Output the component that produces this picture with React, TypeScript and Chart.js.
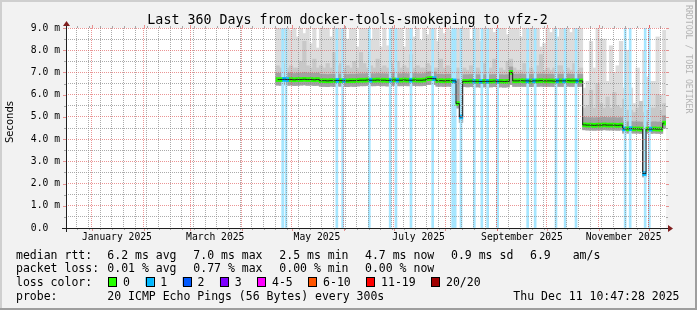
import React, { useEffect, useRef } from "react";
import { Chart, registerables } from "chart.js";

Chart.register(...registerables);

// ---------------- data ----------------
// x values are days counted from the graph start (Mon Dec 16 2024 10:47:28), 360 days shown
const xMinDay = 0;
const xMaxDay = 360;
const firstBucketDay = 127; // centre of the first 2-day bucket that has data
const bucketDays = 2;

// median RTT per bucket (ms)
const median = [
  6.68, 6.68, 6.69, 6.68, 6.68, 6.67, 6.68, 6.68, 6.69, 6.68,
  6.68, 6.67, 6.68, 6.63, 6.63, 6.62, 6.63, 6.63, 6.64, 6.63,
  6.63, 6.62, 6.63, 6.63, 6.64, 6.65, 6.65, 6.66, 6.65, 6.65,
  6.66, 6.65, 6.65, 6.64, 6.65, 6.66, 6.65, 6.65, 6.66, 6.65,
  6.65, 6.66, 6.65, 6.65, 6.66, 6.72, 6.73, 6.72, 6.63, 6.63,
  6.62, 6.63, 6.63, 6.62, 5.6, 5.0, 6.6, 6.6, 6.61, 6.6,
  6.6, 6.59, 6.6, 6.6, 6.6, 6.61, 6.6, 6.6, 6.59, 6.6,
  7.0, 6.62, 6.62, 6.63, 6.62, 6.62, 6.61, 6.62, 6.62, 6.63,
  6.62, 6.62, 6.62, 6.61, 6.62, 6.62, 6.62, 6.63, 6.62, 6.62,
  6.62, 6.62, 4.64, 4.63, 4.63, 4.62, 4.63, 4.63, 4.64, 4.63,
  4.63, 4.63, 4.62, 4.63, 4.46, 4.46, 4.47, 4.46, 4.46, 4.45,
  2.45, 4.45, 4.45, 4.46, 4.45, 4.45, 4.72,
];

// lowest ping per bucket (ms)
const smokeLow = [
  6.43, 6.42, 6.44, 6.42, 6.43, 6.41, 6.42, 6.43, 6.44, 6.42,
  6.43, 6.41, 6.42, 6.38, 6.37, 6.36, 6.38, 6.37, 6.39, 6.38,
  6.37, 6.36, 6.38, 6.37, 6.39, 6.4, 6.4, 6.41, 6.4, 6.4,
  6.41, 6.4, 6.4, 6.39, 6.4, 6.41, 6.4, 6.4, 6.41, 6.4,
  6.4, 6.41, 6.4, 6.4, 6.41, 6.45, 6.46, 6.45, 6.38, 6.38,
  6.37, 6.38, 6.38, 6.37, 5.4, 4.75, 6.36, 6.35, 6.36, 6.35,
  6.35, 6.34, 6.35, 6.35, 6.35, 6.36, 6.35, 6.35, 6.34, 6.35,
  6.45, 6.37, 6.37, 6.38, 6.37, 6.37, 6.36, 6.37, 6.37, 6.38,
  6.37, 6.37, 6.37, 6.36, 6.37, 6.37, 6.37, 6.38, 6.37, 6.37,
  6.37, 6.37, 4.42, 4.41, 4.41, 4.4, 4.41, 4.41, 4.42, 4.41,
  4.41, 4.41, 4.4, 4.41, 4.27, 4.27, 4.28, 4.27, 4.27, 4.26,
  2.3, 4.26, 4.26, 4.27, 4.26, 4.26, 4.5,
];

// top of the dense (dark) smoke per bucket (ms)
const smokeInner = [
  6.97, 6.96, 6.98, 6.97, 6.97, 6.95, 6.97, 6.97, 6.99, 6.97,
  6.97, 6.96, 6.97, 6.92, 6.92, 6.91, 6.92, 6.92, 6.93, 6.92,
  6.92, 6.91, 6.92, 6.92, 6.93, 6.94, 6.94, 6.95, 6.94, 6.94,
  6.95, 6.94, 6.94, 6.93, 6.94, 6.95, 6.94, 6.94, 6.95, 6.94,
  6.94, 6.95, 6.94, 6.94, 6.95, 7.02, 7.03, 7.02, 6.92, 6.92,
  6.91, 6.92, 6.92, 6.91, 6.7, 6.7, 6.9, 6.9, 6.91, 6.9,
  6.9, 6.89, 6.9, 6.9, 6.9, 6.91, 6.9, 6.9, 6.89, 6.9,
  7.25, 6.92, 6.92, 6.93, 6.92, 6.92, 6.91, 6.92, 6.92, 6.93,
  6.92, 6.92, 6.92, 6.91, 6.92, 6.92, 6.92, 6.93, 6.92, 6.92,
  6.92, 6.92, 4.98, 4.97, 4.97, 4.96, 4.97, 4.97, 4.98, 4.97,
  4.97, 4.97, 4.96, 4.97, 4.78, 4.78, 4.79, 4.78, 4.78, 4.77,
  4.6, 4.77, 4.77, 4.78, 4.77, 4.77, 5.05,
];

// top of the medium smoke per bucket (ms)
const smokeMid = [
  7.3, 7.2, 7.4, 7.2, 7.3, 7.2, 7.2, 7.5, 8.4, 7.3,
  7.2, 7.6, 7.2, 7.3, 7.2, 7.4, 7.2, 7.9, 7.3, 7.4,
  7.2, 7.3, 7.2, 7.5, 7.2, 7.9, 7.4, 7.2, 7.3, 7.2,
  7.6, 7.2, 7.3, 7.2, 7.4, 7.2, 7.5, 7.2, 7.3, 7.2,
  7.8, 7.2, 7.3, 7.2, 7.2, 7.4, 7.3, 7.2, 7.2, 7.6,
  7.2, 7.3, 7.2, 7.2, 7.2, 7.0, 7.2, 7.1, 7.3, 7.1,
  7.2, 7.1, 7.4, 7.1, 7.2, 7.6, 7.1, 7.2, 7.1, 7.5,
  7.6, 7.2, 7.1, 7.1, 7.4, 7.1, 7.2, 7.1, 7.3, 7.8,
  7.1, 7.2, 7.1, 7.2, 7.3, 7.3, 7.1, 7.2, 7.1, 7.4,
  7.1, 7.2, 5.4, 5.5, 6.2, 5.4, 6.5, 5.6, 5.4, 5.9,
  5.4, 6.1, 5.5, 5.4, 5.8, 5.3, 5.3, 5.2, 5.4, 5.7,
  5.2, 5.3, 5.4, 5.4, 6.0, 5.3, 5.6,
];

// highest ping per bucket (ms), values above 9 are clipped by the graph
const smokeTop = [
  9.5, 9.5, 9.5, 9.5, 8.9, 9.5, 8.6, 9.5, 8.75, 9.5,
  8.3, 9.5, 8.1, 9.5, 9.5, 9.5, 8.6, 9.5, 9.5, 9.5,
  9.5, 8.5, 9.5, 9.5, 8.15, 9.5, 9.5, 9.5, 8.5, 9.5,
  9.5, 8.15, 9.5, 8.2, 9.5, 9.5, 9.5, 9.5, 8.15, 9.5,
  9.5, 8.6, 9.5, 8.45, 9.5, 8.7, 9.5, 9.5, 8.4, 9.5,
  8.75, 9.5, 8.85, 9.5, 9.5, 9.5, 9.5, 9.5, 8.5, 9.5,
  9.5, 8.4, 9.5, 8.75, 9.5, 8.8, 9.5, 9.5, 9.5, 8.7,
  9.5, 9.5, 9.5, 8.6, 9.5, 9.5, 9.5, 9.5, 9.5, 8.15,
  8.3, 9.5, 8.8, 9.5, 8.6, 9.5, 9.5, 9.5, 8.8, 9.5,
  9.5, 9.5, 6.3, 6.6, 8.4, 7.2, 9.2, 8.5, 8.5, 6.6,
  8.2, 7.0, 7.3, 8.4, 6.3, 8.0, 6.3, 5.6, 7.2, 5.5,
  8.0, 6.8, 6.6, 6.6, 8.6, 6.0, 8.9,
];

// days on which packet loss happened (1 of 20 pings lost)
const lossDays = [
  130, 132, 162.5, 166, 182, 194.5, 198, 207, 220, 232, 233.5, 237,
  245, 249.5, 253, 259, 277, 281.5, 294, 299.5, 306, 335.5, 338.5, 347.5, 350,
];

// time axis
const monthStartDays = [15.55, 46.55, 74.55, 105.55, 135.55, 166.55, 196.55, 227.55, 258.55, 288.55, 319.55, 349.55];
const monthLabelDays = [30.55, 89.55, 150.55, 211.55, 273.55, 334.55];
const monthLabels = ["January 2025", "March 2025", "May 2025", "July 2025", "September 2025", "November 2025"];
const firstMondayDay = 6.55;

// value axis
const yMin = 0;
const yMax = 9;
const yStep = 0.5;

// texts
const titleText = "Last 360 Days from docker-tools-smokeping to vfz-2";
const yTitle = "Seconds";
const rttLabel = "median rtt:";
const rttStats = ["6.2 ms avg", "7.0 ms max", "2.5 ms min", "4.7 ms now", "0.9 ms sd"];
const amsValue = "6.9";
const amsUnit = "am/s";
const lossLabel = "packet loss:";
const lossStats = ["0.01 % avg", "0.77 % max", "0.00 % min", "0.00 % now"];
const lossColorLabel = "loss color:";
const lossColorNames = ["0", "1", "2", "3", "4-5", "6-10", "11-19", "20/20"];
const lossColorValues = ["#26ff00", "#00b8ff", "#0059ff", "#7e00ff", "#ff00ff", "#ff5500", "#ff0000", "#a00000"];
const probeLabel = "probe:";
const probeText = "20 ICMP Echo Pings (56 Bytes) every 300s";
const stampText = "Thu Dec 11 10:47:28 2025";
const creditText = "RRDTOOL / TOBI OETIKER";

// ---------------- derived ----------------
const bucketX = median.map((_, i) => firstBucketDay + i * bucketDays);
const weekDays: number[] = [];
for (let d = firstMondayDay; d < xMaxDay; d += 7) weekDays.push(d);
const isMonthStart = (v: number) => monthStartDays.some((m) => Math.abs(m - v) < 1e-6);
const labelIndex = (v: number) => monthLabelDays.findIndex((m) => Math.abs(m - v) < 1e-6);
const xTickValues = [...weekDays, ...monthStartDays, ...monthLabelDays].sort((a, b) => a - b);
const bandColors = bucketX.map((c) =>
  lossDays.some((d) => d >= c - bucketDays / 2 && d < c + bucketDays / 2) ? lossColorValues[1] : lossColorValues[0]
);

const W = 697;
const H = 310;
const PLOT_W = 600;
const MONO = '"DejaVu Sans Mono", monospace';
const GRID_MINOR = "rgba(143,143,143,0.75)";
const GRID_MAJOR = "rgba(222,79,79,0.6)";

const backgroundPlugin = {
  id: "rrdBackground",
  beforeDraw(chart: any) {
    const { ctx, chartArea: a } = chart;
    ctx.save();
    ctx.fillStyle = "#f2f2f2";
    ctx.fillRect(0, 0, W, H);
    ctx.fillStyle = "#cfcfcf";
    ctx.fillRect(0, 0, W, 2);
    ctx.fillRect(0, 0, 2, H);
    ctx.fillStyle = "#9e9e9e";
    ctx.fillRect(0, H - 2, W, 2);
    ctx.fillRect(W - 2, 0, 2, H);
    ctx.fillStyle = "#ffffff";
    ctx.fillRect(a.left, a.top, a.right - a.left, a.bottom - a.top);
    ctx.restore();
  },
};

const decoPlugin = {
  id: "rrdDeco",
  afterDraw(chart: any) {
    const { ctx, chartArea: a } = chart;
    const xs = chart.scales.x;
    const ys = chart.scales.y;
    ctx.save();
    ctx.lineWidth = 1;
    const vline = (x: number, y1: number, y2: number, c: string) => {
      ctx.strokeStyle = c;
      ctx.beginPath();
      ctx.moveTo(x, y1);
      ctx.lineTo(x, y2);
      ctx.stroke();
    };
    const hline = (y: number, x1: number, x2: number, c: string) => {
      ctx.strokeStyle = c;
      ctx.beginPath();
      ctx.moveTo(x1, y);
      ctx.lineTo(x2, y);
      ctx.stroke();
    };
    // tick marks on all four sides
    [...weekDays, ...monthStartDays].forEach((d) => {
      const major = isMonthStart(d);
      const x = Math.round(xs.getPixelForValue(d)) + 0.5;
      const len = major ? 3 : 2;
      const c = major ? GRID_MAJOR : GRID_MINOR;
      vline(x, a.top - len, a.top, c);
      vline(x, a.bottom, a.bottom + len, c);
    });
    for (let v = yMin; v <= yMax + 1e-9; v += yStep) {
      const major = Math.abs(v - Math.round(v)) < 1e-6;
      const y = Math.round(ys.getPixelForValue(v)) + 0.5;
      const len = major ? 3 : 2;
      const c = major ? GRID_MAJOR : GRID_MINOR;
      hline(y, a.left - len, a.left, c);
      hline(y, a.right, a.right + len, c);
    }
    // axes with arrows
    const ox = Math.round(a.left) + 0.5;
    const oy = Math.round(a.bottom) + 0.5;
    hline(oy, a.left - 4, a.right + 4, "#1f1f1f");
    vline(ox, a.bottom + 4, a.top - 4, "#1f1f1f");
    ctx.fillStyle = "#801f1f";
    ctx.beginPath();
    ctx.moveTo(a.right + 2, oy - 3.5);
    ctx.lineTo(a.right + 2, oy + 3.5);
    ctx.lineTo(a.right + 7, oy);
    ctx.closePath();
    ctx.fill();
    ctx.beginPath();
    ctx.moveTo(ox - 3.5, a.top - 2);
    ctx.lineTo(ox + 3.5, a.top - 2);
    ctx.lineTo(ox, a.top - 7);
    ctx.closePath();
    ctx.fill();

    // title
    ctx.fillStyle = "#000";
    ctx.textBaseline = "alphabetic";
    ctx.textAlign = "center";
    ctx.font = `13.3px ${MONO}`;
    ctx.fillText(titleText, 347.5, 24);

    // vertical axis title
    ctx.save();
    ctx.translate(10.5, 122);
    ctx.rotate(-Math.PI / 2);
    ctx.font = '10px "DejaVu Sans", sans-serif';
    ctx.textAlign = "center";
    ctx.textBaseline = "middle";
    ctx.fillText(yTitle, 0, 0);
    ctx.restore();

    // credit
    ctx.save();
    ctx.translate(688.5, 5);
    ctx.rotate(Math.PI / 2);
    ctx.font = `8.2px ${MONO}`;
    ctx.textAlign = "left";
    ctx.textBaseline = "middle";
    ctx.fillStyle = "#b4b4b4";
    ctx.fillText(creditText, 0, 0);
    ctx.restore();

    // legend
    ctx.font = `11.5px ${MONO}`;
    ctx.textAlign = "left";
    ctx.textBaseline = "alphabetic";
    ctx.fillStyle = "#000";
    const rows = [258.5, 272, 286, 300];
    const cols = [107.3, 193.3, 279.3, 365, 451];
    ctx.fillText(rttLabel, 16, rows[0]);
    rttStats.forEach((t, i) => ctx.fillText(t, cols[i], rows[0]));
    ctx.fillText(amsValue, 530, rows[0]);
    ctx.fillText(amsUnit, 572.7, rows[0]);
    ctx.fillText(lossLabel, 16, rows[1]);
    lossStats.forEach((t, i) => ctx.fillText(t, cols[i], rows[1]));
    ctx.fillText(lossColorLabel, 16, rows[2]);
    let bx = 108.3;
    lossColorNames.forEach((name, i) => {
      ctx.fillStyle = lossColorValues[i];
      ctx.fillRect(bx, rows[2] - 9, 8.3, 9);
      ctx.strokeStyle = "#000";
      ctx.strokeRect(Math.round(bx) + 0.5, rows[2] - 9 + 0.5, 8, 9);
      ctx.fillStyle = "#000";
      const lx = bx + 14.8;
      ctx.fillText(name, lx, rows[2]);
      bx = lx + ctx.measureText(name).width + 15.5;
    });
    ctx.fillText(probeLabel, 16, rows[3]);
    ctx.fillText(probeText, 107.3, rows[3]);
    ctx.textAlign = "right";
    ctx.fillText(stampText, 679.5, rows[3]);
    ctx.restore();
  },
};

function buildConfig(): any {
  const floatBars = (lo: number[], hi: number[]) => bucketX.map((x, i) => ({ x, y: [lo[i], hi[i]] }));
  const bucketPx = (bucketDays * PLOT_W) / (xMaxDay - xMinDay);
  const barCommon = {
    type: "bar",
    grouped: false,
    barThickness: bucketPx + 0.2,
    borderWidth: 0,
    xAxisID: "xs",
  };
  const hiddenX = { type: "linear", min: xMinDay, max: xMaxDay, offset: false, display: false, grid: { offset: false } };
  return {
    type: "bar",
    data: {
      datasets: [
        { ...barCommon, label: "smoke max", data: floatBars(smokeLow, smokeTop), backgroundColor: "#dcdcdc", order: 10 },
        { ...barCommon, label: "smoke mid", data: floatBars(smokeLow, smokeMid), backgroundColor: "#c8c8c8", order: 9 },
        { ...barCommon, label: "smoke core", data: floatBars(smokeLow, smokeInner), backgroundColor: "#a2a2a2", order: 8 },
        {
          type: "bar",
          label: "loss",
          xAxisID: "x2",
          grouped: false,
          barThickness: 2,
          borderWidth: 0,
          data: lossDays.map((d) => ({ x: d, y: [yMin, yMax] })),
          backgroundColor: "#a6e6ff",
          order: 7,
        },
        {
          ...barCommon,
          label: "median band",
          data: bucketX.map((x, i) => ({ x, y: [median[i] - 0.09, median[i] + 0.09] })),
          backgroundColor: bandColors,
          order: 6,
        },
        {
          type: "line",
          label: "median",
          xAxisID: "x",
          data: bucketX.map((x, i) => ({ x, y: median[i] })),
          borderColor: "#202020",
          borderWidth: 1,
          pointRadius: 0,
          fill: false,
          stepped: "middle",
          order: 5,
        },
      ],
    },
    options: {
      animation: false,
      responsive: false,
      devicePixelRatio: 1,
      events: [],
      layout: { padding: { left: 0, right: 31, top: 28, bottom: 62 } },
      plugins: { legend: { display: false }, tooltip: { enabled: false }, title: { display: false } },
      scales: {
        x: {
          type: "linear",
          min: xMinDay,
          max: xMaxDay,
          offset: false,
          afterFit: (s: any) => {
            s.height = 20;
          },
          afterBuildTicks: (s: any) => {
            s.ticks = xTickValues.map((v) => ({ value: v }));
          },
          grid: {
            z: 1,
            offset: false,
            drawTicks: false,
            color: (c: any) => (isMonthStart(c.tick.value) ? GRID_MAJOR : GRID_MINOR),
            lineWidth: (c: any) => (labelIndex(c.tick.value) >= 0 ? 0 : 1),
          },
          border: { display: false, dash: [1, 1] },
          ticks: {
            autoSkip: false,
            maxRotation: 0,
            minRotation: 0,
            padding: 4,
            color: "#000",
            font: { family: MONO, size: 9.7 },
            callback: (v: number) => {
              const i = labelIndex(v);
              return i >= 0 ? monthLabels[i] : "";
            },
          },
        },
        xs: { ...hiddenX },
        x2: { ...hiddenX },
        y: {
          type: "linear",
          min: yMin,
          max: yMax,
          afterFit: (s: any) => {
            s.width = 66;
          },
          grid: {
            z: 1,
            drawTicks: false,
            color: (c: any) => (Math.abs(c.tick.value - Math.round(c.tick.value)) < 1e-6 ? GRID_MAJOR : GRID_MINOR),
          },
          border: { display: false, dash: [1, 1] },
          ticks: {
            stepSize: yStep,
            autoSkip: false,
            padding: 6,
            color: "#000",
            font: { family: MONO, size: 9.7 },
            callback: (v: number) => {
              if (Math.abs(v - Math.round(v)) > 1e-6) return "";
              return v === 0 ? "0.0  " : `${v.toFixed(1)} m`;
            },
          },
        },
      },
    },
    plugins: [backgroundPlugin, decoPlugin],
  };
}

export default function App() {
  const ref = useRef<HTMLCanvasElement | null>(null);
  useEffect(() => {
    if (!ref.current) return;
    const chart = new Chart(ref.current, buildConfig());
    return () => chart.destroy();
  }, []);
  return (
    <div style={{ position: "fixed", left: 0, top: 0, width: W, height: H }}>
      <canvas ref={ref} width={W} height={H} style={{ display: "block", width: W, height: H }} />
    </div>
  );
}
